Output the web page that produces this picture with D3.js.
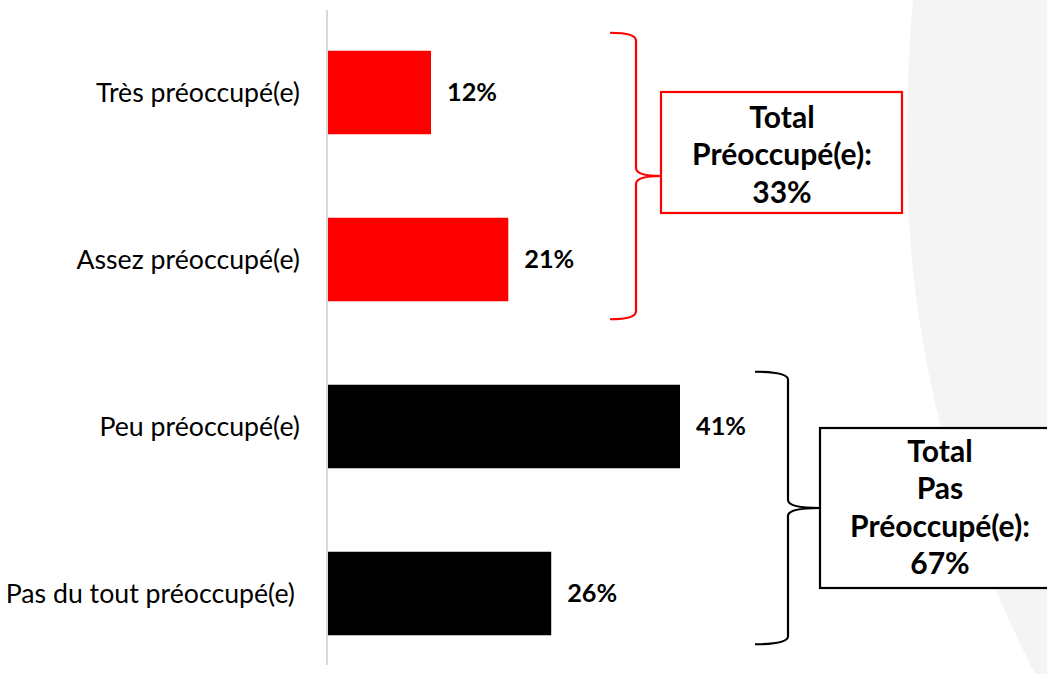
<!DOCTYPE html>
<html>
<head>
<meta charset="utf-8">
<script src="https://cdn.jsdelivr.net/npm/d3@7"></script>
<style>
  body { margin: 0; background: #fff; }
  svg { display: block; }
</style>
</head>
<body>
<div id="chart"></div>
<script>
const categories = ["Très préoccupé(e)", "Assez préoccupé(e)", "Peu préoccupé(e)", "Pas du tout préoccupé(e)"];
const values = [12, 21, 41, 26];
const barColors = ["#ff0000", "#ff0000", "#000000", "#000000"];
const groups = [
  { from: 0, to: 1, color: "#ff0000", lines: ["Total", "Préoccupé(e):", "33%"] },
  { from: 2, to: 3, color: "#000000", lines: ["Total", "Pas", "Préoccupé(e):", "67%"] }
];

const W = 1047, H = 674;
const x0 = 328;
const FONT = "Lato, 'Open Sans', sans-serif";

const svg = d3.select("#chart").append("svg")
  .attr("width", W)
  .attr("height", H);

// pick a font size so a sample string gets a given width
function fitSize(str, weight, target) {
  const t = svg.append("text")
    .attr("font-family", FONT).attr("font-size", 20)
    .attr("font-weight", weight).text(str);
  const w = t.node().getComputedTextLength();
  t.remove();
  return 20 * target / w;
}
const catSize = fitSize("Très préoccupé(e)", "normal", 204);
const valSize = fitSize("12%", "bold", 50);
const boxSize = fitSize("Préoccupé(e):", "bold", 180);

// faint grey swoosh on the right
svg.append("path")
  .attr("d", "M913,0 C896,200 905,420 1035,674 L1047,674 L1047,0 Z")
  .attr("fill", "#f4f4f4");

const x = d3.scaleLinear().domain([0, 41]).range([x0, 680]);
const y = d3.scaleBand()
  .domain(categories)
  .range([9, 677])
  .paddingInner(0.5)
  .paddingOuter(0.25);

// axis line
svg.append("line")
  .attr("x1", x0 - 1).attr("x2", x0 - 1)
  .attr("y1", 10).attr("y2", 665)
  .attr("stroke", "#d9d9d9")
  .attr("stroke-width", 2);

svg.selectAll("rect.bar")
  .data(values)
  .join("rect")
  .attr("class", "bar")
  .attr("x", x0)
  .attr("y", (d, i) => y(categories[i]))
  .attr("width", d => x(d) - x0)
  .attr("height", y.bandwidth())
  .attr("fill", (d, i) => barColors[i]);

svg.selectAll("text.cat")
  .data(categories)
  .join("text")
  .attr("class", "cat")
  .attr("x", (d, i) => i === 3 ? 295 : 300)
  .attr("y", d => y(d) + y.bandwidth() / 2)
  .attr("dy", "0.35em")
  .attr("text-anchor", "end")
  .attr("font-family", FONT)
  .attr("font-size", catSize)
  .attr("fill", "#000")
  .text(d => d);

svg.selectAll("text.val")
  .data(values)
  .join("text")
  .attr("class", "val")
  .attr("x", d => x(d) + 16)
  .attr("y", (d, i) => y(categories[i]) + y.bandwidth() / 2)
  .attr("dy", "0.35em")
  .attr("font-family", FONT)
  .attr("font-size", valSize)
  .attr("font-weight", "bold")
  .attr("fill", "#000")
  .text(d => d + "%");

// curly brace, opening to the left, tip pointing right
function brace(xl, xv, xt, top, bot) {
  const mid = (top + bot) / 2, r = 8;
  return `M${xl},${top} Q${xv},${top} ${xv},${top + r}` +
    ` L${xv},${mid - r} Q${xv},${mid} ${xt},${mid}` +
    ` Q${xv},${mid} ${xv},${mid + r}` +
    ` L${xv},${bot - r} Q${xv},${bot} ${xl},${bot}`;
}

const braceCfg = [
  { xl: 610, xv: 636, xt: 661, pad: [18, 18], box: [661, 92, 241, 121], cx: 782, ty: 117 },
  { xl: 755, xv: 788, xt: 820, pad: [13, 9], box: [820, 428, 240, 160], cx: 940, ty: 451 }
];

groups.forEach((g, k) => {
  const c = braceCfg[k];
  const top = y(categories[g.from]) - c.pad[0];
  const bot = y(categories[g.to]) + y.bandwidth() + c.pad[1];
  svg.append("path")
    .attr("d", brace(c.xl, c.xv, c.xt, top, bot))
    .attr("fill", "none")
    .attr("stroke", g.color)
    .attr("stroke-width", 2.2);
  svg.append("rect")
    .attr("x", c.box[0]).attr("y", c.box[1])
    .attr("width", c.box[2]).attr("height", c.box[3])
    .attr("fill", "#fff")
    .attr("stroke", g.color)
    .attr("stroke-width", 2.2);
  const t = svg.append("text")
    .attr("text-anchor", "middle")
    .attr("font-family", FONT)
    .attr("font-size", boxSize)
    .attr("font-weight", "bold")
    .attr("fill", "#000");
  g.lines.forEach((ln, i) => {
    t.append("tspan")
      .attr("x", c.cx)
      .attr("y", c.ty + i * 37.5)
      .attr("dy", "0.35em")
      .text(ln);
  });
});
</script>
</body>
</html>
